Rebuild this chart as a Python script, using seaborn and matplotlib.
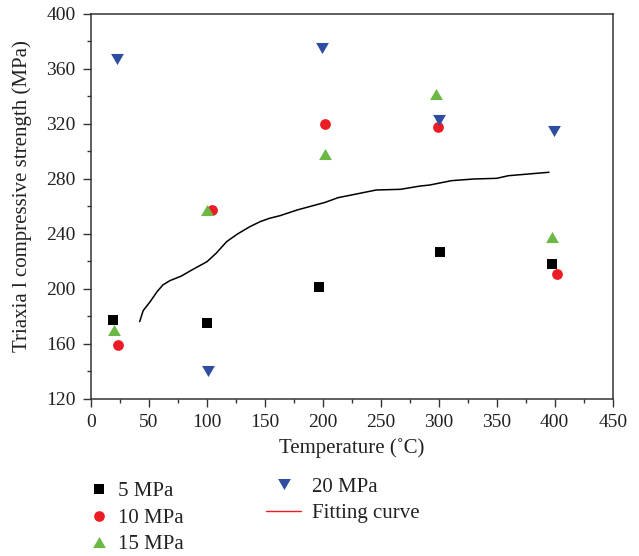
import numpy as np
import pandas as pd
import matplotlib
matplotlib.use("Agg")
import matplotlib.pyplot as plt
from matplotlib.lines import Line2D
from matplotlib.ticker import MultipleLocator
import seaborn as sns

# Measured triaxial compressive strength at each confining pressure
temp_5 = [19, 100, 197, 301, 398]
strength_5 = [177, 175, 201, 227, 218]
temp_10 = [23, 104, 202, 299, 402]
strength_10 = [159, 257, 320, 318, 211]
temp_15 = [20, 100, 202, 298, 398]
strength_15 = [170, 257, 298, 342, 238]
temp_20 = [22, 101, 199, 300, 399]
strength_20 = [367, 140, 375, 323, 315]

# Fitted strength-temperature curve
fit_temp = [42, 45, 51, 57, 62, 68, 78, 87, 100, 108, 117, 126, 137, 146, 154,
            163, 178, 202, 213, 229, 246, 267, 284, 292, 311, 330, 350, 360, 395]
fit_strength = [176.1, 184.1, 190.6, 197.9, 202.8, 205.9, 209.3, 213.7, 219.7,
                225.9, 234.3, 239.7, 245.2, 248.9, 251.3, 253.2, 257.4, 262.9,
                266.3, 269.0, 271.9, 272.4, 274.8, 275.5, 278.7, 279.9, 280.4,
                282.3, 284.8]

series_labels = ["5 MPa", "10 MPa", "15 MPa", "20 MPa"]
fit_label = "Fitting curve"

x_label = "Temperature (˚C)"
y_label = "Triaxia l compressive strength (MPa)"

sns.set_style("ticks")
plt.rcParams["font.family"] = ["Liberation Serif", "DejaVu Serif"]
plt.rcParams["mathtext.fontset"] = "stix"

RED = "#ec1c24"
GREEN = "#6bb844"
BLUE = "#2e4da0"
BLACK = "#000000"

# equilateral triangles (up / down)
tri_up = [(0, 0.433), (-0.5, -0.433), (0.5, -0.433), (0, 0.433)]
tri_down = [(0, -0.433), (-0.5, 0.433), (0.5, 0.433), (0, -0.433)]

fig = plt.figure(figsize=(6.39, 5.56), dpi=100)
ax = fig.add_axes([91 / 639, 1 - 398.7 / 556, 521.7 / 639, 384.7 / 556])

groups = [
    (temp_5, strength_5, series_labels[0], BLACK, "s", 42),
    (temp_10, strength_10, series_labels[1], RED, "o", 60),
    (temp_15, strength_15, series_labels[2], GREEN, tri_up, 85),
    (temp_20, strength_20, series_labels[3], BLUE, tri_down, 85),
]
for t, s, lab, col, mk, size in groups:
    df = pd.DataFrame({"Temperature": t, "Strength": s})
    sns.scatterplot(data=df, x="Temperature", y="Strength", color=col,
                    marker=mk, s=size, linewidth=0, ax=ax, zorder=3,
                    legend=False)

fit_df = pd.DataFrame({"Temperature": fit_temp, "Strength": fit_strength})
sns.lineplot(data=fit_df, x="Temperature", y="Strength", color="black",
             lw=1.1, sort=False, estimator=None, ax=ax, zorder=2)

ax.set_xlim(0, 450)
ax.set_ylim(120, 400)
ax.xaxis.set_major_locator(MultipleLocator(50))
ax.xaxis.set_minor_locator(MultipleLocator(25))
ax.yaxis.set_major_locator(MultipleLocator(40))
ax.yaxis.set_minor_locator(MultipleLocator(20))

for sp in ax.spines.values():
    sp.set_visible(True)
    sp.set_color("#333333")
    sp.set_linewidth(1.1)

ax.tick_params(which="both", direction="out", color="#333333", width=1.0,
               top=False, right=False)
ax.tick_params(which="major", length=6, pad=5, labelsize=14, labelcolor="#222222")
ax.tick_params(which="minor", length=3)

ax.set_xlabel(x_label, fontsize=15, color="#222222")
ax.set_ylabel(y_label, fontsize=15, color="#222222")
ax.xaxis.set_label_coords(0.5, -(448 - 398.7) / 384.7)
ax.yaxis.set_label_coords(-0.114, 0.527)
ax.xaxis.get_label().set_va("center")

# Legend, left column: scatter groups at 5/10/15 MPa
left_handles = [
    Line2D([], [], ls="none", marker="s", color=BLACK, markersize=6.5, mew=0),
    Line2D([], [], ls="none", marker="o", color=RED, markersize=7.7, mew=0),
    Line2D([], [], ls="none", marker=tri_up, color=GREEN, markersize=9.2, mew=0),
]
leg1 = fig.legend(left_handles, series_labels[:3], loc="center left",
                  bbox_to_anchor=(91 / 639, 1 - 518 / 556), frameon=False,
                  fontsize=15, handlelength=0.8, handletextpad=0.5,
                  labelspacing=0.34, borderpad=0, borderaxespad=0)

# Legend, right column: 20 MPa and the fitting curve
right_handles = [
    Line2D([], [], ls="none", marker=tri_down, color=BLUE, markersize=9.2, mew=0),
    Line2D([], [], color=RED, lw=1.0),
]
leg2 = fig.legend(right_handles, [series_labels[3], fit_label],
                  loc="center left", bbox_to_anchor=(266 / 639, 1 - 500.3 / 556),
                  frameon=False, fontsize=15, handlelength=1.68,
                  handletextpad=0.53, labelspacing=0.34, borderpad=0,
                  borderaxespad=0)
for leg in (leg1, leg2):
    for txt in leg.get_texts():
        txt.set_color("#222222")

fig.savefig("out.png", dpi=100)
